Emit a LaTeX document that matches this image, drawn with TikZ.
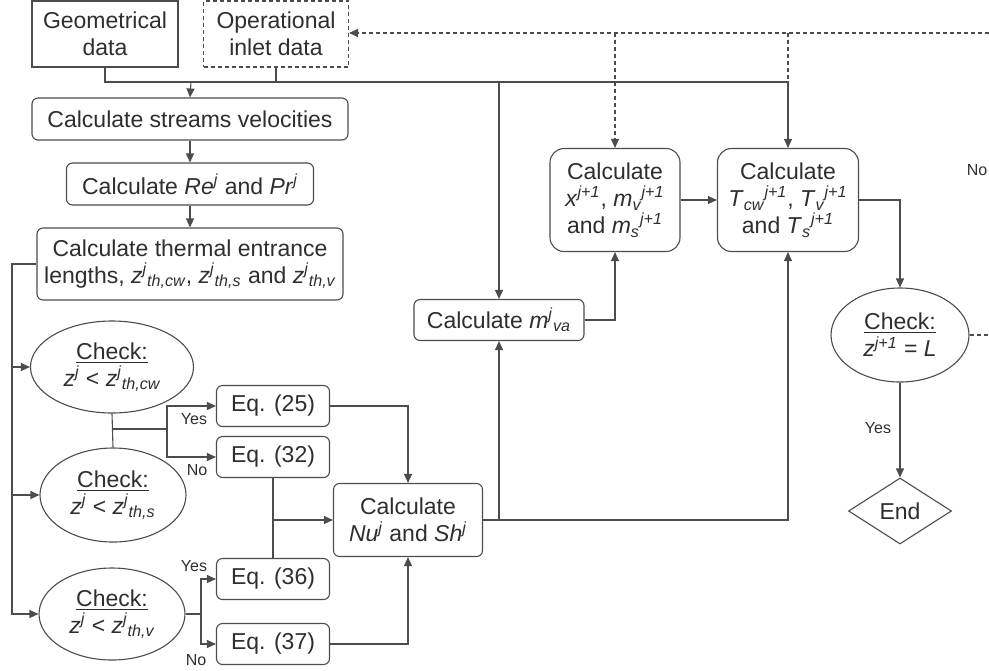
\documentclass[tikz,border=0pt]{standalone}
\usepackage{fontspec}
\setmainfont{Liberation Sans}
\usetikzlibrary{shapes.geometric, arrows.meta, positioning}

\newcommand{\sups}[1]{\textsuperscript{\itshape #1}}
\newcommand{\subs}[1]{\textsubscript{\itshape #1}}

\begin{document}
\begin{tikzpicture}[x=0.5pt, y=-0.5pt, line width=0.55pt, draw=black!70,
    every node/.style={font=\fontsize{11.5}{13.5}\selectfont, text=black!82},
    calcbox/.style={draw=black!70, rounded corners=3pt, align=center, inner sep=1pt},
    databox/.style={draw=black!70, align=center, inner sep=1pt},
    checkbox/.style={draw=black!70, ellipse, align=center, inner sep=0pt},
    endbox/.style={draw=black!70, diamond, aspect=1.56, inner sep=0pt},
    arr/.style={-{Triangle[length=4.5pt,width=4pt]}},
    loop/.style={dash pattern=on 2pt off 1.5pt},
    answer/.style={font=\fontsize{8}{9}\selectfont}]

    \useasboundingbox (0,0) rectangle (989,670);

    %Input data
    \node[databox, minimum width=73pt, minimum height=33pt] (geo) at (105,34) {Geometrical\\data};
    \node[databox, loop, minimum width=72.5pt, minimum height=33pt] (op) at (276,34) {Operational\\inlet data};

    %Left column
    \node[calcbox, minimum width=158pt, minimum height=21pt] (streams) at (190,119) {Calculate streams velocities};
    \node[calcbox, minimum width=123.5pt, minimum height=21pt] (repr) at (190,184) {Calculate \textit{Re}\sups{j} and \textit{Pr}\sups{j}};
    \node[calcbox, minimum width=153pt, minimum height=36pt] (thermal) at (190,264) {Calculate thermal entrance\\lengths, \textit{z}\sups{j}\subs{th,cw}, \textit{z}\sups{j}\subs{th,s} and \textit{z}\sups{j}\subs{th,v}};

    %Checks
    \node[checkbox, minimum width=81.5pt, minimum height=46pt] (check1) at (112,367) {\underline{Check:}\\\textit{z}\sups{j} < \textit{z}\sups{j}\subs{th,cw}};
    \node[checkbox, minimum width=73pt, minimum height=47pt] (check2) at (113,495) {\underline{Check:}\\\textit{z}\sups{j} < \textit{z}\sups{j}\subs{th,s}};
    \node[checkbox, minimum width=73pt, minimum height=46pt] (check3) at (112,614) {\underline{Check:}\\\textit{z}\sups{j} < \textit{z}\sups{j}\subs{th,v}};

    %Equations
    \foreach \n/\y in {25/406, 32/457, 36/579, 37/644}
    \node[calcbox, minimum width=56.5pt, minimum height=20.5pt] (eq\n) at (273,\y) {Eq. (\n)};

    %Right part
    \node[calcbox, minimum width=74.5pt, minimum height=36.5pt] (nush) at (408,520) {Calculate\\\textit{Nu}\sups{j} and \textit{Sh}\sups{j}};
    \node[calcbox, minimum width=85pt, minimum height=20.5pt] (mva) at (499,320) {Calculate \textit{m}\sups{j}\subs{va}};
    \node[calcbox, rounded corners=7pt, minimum width=65pt, minimum height=51.5pt] (xcalc) at (615,200) {Calculate\\\textit{x}\sups{j+1}, \textit{m}\subs{v}\sups{j+1}\\and \textit{m}\subs{s}\sups{j+1}};
    \node[calcbox, rounded corners=7pt, minimum width=70.5pt, minimum height=51.5pt] (tcalc) at (788,200) {Calculate\\\textit{T}\subs{cw}\sups{j+1}, \textit{T}\subs{v}\sups{j+1}\\and \textit{T}\subs{s}\sups{j+1}};
    \node[checkbox, minimum width=69pt, minimum height=47pt] (check4) at (900,335) {\underline{Check:}\\\textit{z}\sups{j+1} = \textit{L}};
    \node[endbox, minimum width=51.5pt, minimum height=33pt] (end) at (900,511) {End};

    %Answer labels
    \node[answer] (no4) at (977,170) {No};
    \node[answer] (yes1) at (194,419) {Yes};
    \node[answer] (no1) at (197,470) {No};
    \node[answer] (yes3) at (194,566) {Yes};
    \node[answer] (no3) at (196,660) {No};
    \node[answer] (yes4) at (878,428) {Yes};

    %Helper points
    \coordinate (top) at (191,82);
    \coordinate (rtop) at (989,33);
    \coordinate (rmid) at (989,335);
    \coordinate (spine) at (12,0);
    \coordinate (br1) at (167,429);
    \coordinate (br3) at (201,614);

    %Data lines
    \draw (geo.south) |- (top) -| (op.south);
    \draw[arr] (top) -- (streams.north);
    \draw[arr] (op.south) |- (top -| tcalc.north) -- (tcalc.north);
    \draw[arr] (top -| mva.north) -- (mva.north);

    %Feedback loop (dashed)
    \draw[arr, loop] (rtop) -- (op.east |- rtop);
    \draw[arr, loop] (rtop -| xcalc.north) -- (xcalc.north);
    \draw[loop] (rtop -| tcalc.north) -- (top -| tcalc.north);
    \draw[loop] (check4.east) -- (rmid);

    %Left column flow
    \draw[arr] (streams) -- (repr);
    \draw[arr] (repr) -- (thermal);
    \draw[arr] (thermal.west) -| (spine |- check3.west) -- (check3.west);
    \foreach \c in {check1, check2}
    \draw[arr] (spine |- \c.west) -- (\c.west);

    %Yes/No branches
    \draw (check1.south) -- (check2.north);
    \draw (check1.south |- br1) -- (br1);
    \draw[arr] (br1) |- (eq25.west);
    \draw[arr] (br1) |- (eq32.west);
    \draw (check3.east) -- (br3);
    \draw[arr] (br3) |- (eq36.west);
    \draw[arr] (br3) |- (eq37.west);

    %Into Nu and Sh
    \draw[arr] (eq25.east) -| (nush.north);
    \draw (eq32.south) -- (eq36.north);
    \draw[arr] (eq32.south |- nush.west) -- (nush.west);
    \draw[arr] (eq37.east) -| (nush.south);

    %Right flow
    \draw[arr] (nush.east) -| (mva.south);
    \draw[arr] (nush.east) -| (tcalc.south);
    \draw[arr] (mva.east) -| (xcalc.south);
    \draw[arr] (xcalc) -- (tcalc);
    \draw[arr] (tcalc.east) -| (check4.north);
    \draw[arr] (check4) -- (end);

\end{tikzpicture}
\end{document}
